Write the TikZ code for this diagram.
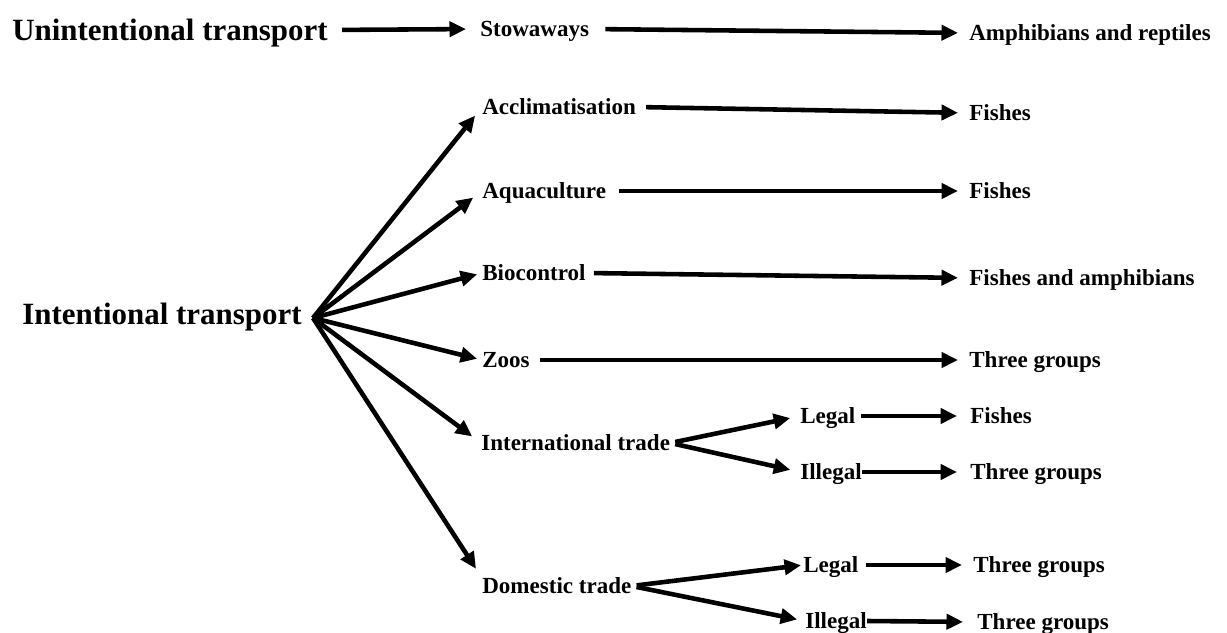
\documentclass[tikz,border=0pt]{standalone}
\usepackage{fontspec}
\setmainfont{Liberation Serif}
\usetikzlibrary{arrows.meta}

\tikzset{
  lbl/.style={inner sep=0pt, anchor=west, text height=8.7pt, text depth=0pt,
    font=\bfseries\fontsize{13.1}{15}\selectfont},
  biglbl/.style={lbl, text height=11.7pt, font=\bfseries\fontsize{17.6}{20}\selectfont},
  arr/.style={-{Triangle[length=0.33cm, width=0.3cm]}, line width=2.6pt,
    shorten <=0.2cm, shorten >=0.22cm}
}

\begin{document}
\begin{tikzpicture}

\useasboundingbox (0,0) rectangle (24.54, 12.64);

\node (unint) at (0.24, 12.04) [biglbl] {Unintentional transport};
\node (stow) at (9.60, 12.06) [lbl] {Stowaways};
\node (amph) at (19.38, 11.98) [lbl] {Amphibians and reptiles};

\node (intent) at (0.44, 6.36) [biglbl] {Intentional transport};
\coordinate (hub) at (6.26, 6.28);

\node (accl) at (9.64, 10.50) [lbl] {Acclimatisation};
\node (aqua) at (9.64, 8.82) [lbl] {Aquaculture};
\node (bioc) at (9.64, 7.18) [lbl] {Biocontrol};
\node (zoos) at (9.64, 5.44) [lbl] {Zoos};
\node (intl) at (9.62, 3.78) [lbl] {International trade};
\node (domes) at (9.64, 0.92) [lbl] {Domestic trade};

\node (fishA) at (19.38, 10.38) [lbl] {Fishes};
\node (fishB) at (19.38, 8.82) [lbl] {Fishes};
\node (fishamph) at (19.38, 7.08) [lbl] {Fishes and amphibians};
\node (threeA) at (19.38, 5.44) [lbl] {Three groups};

\node (legalA) at (16.00, 4.32) [lbl] {Legal};
\node (illegalA) at (16.00, 3.20) [lbl] {Illegal};
\node (fishC) at (19.40, 4.32) [lbl] {Fishes};
\node (threeB) at (19.40, 3.20) [lbl] {Three groups};

\node (legalB) at (16.06, 1.34) [lbl] {Legal};
\node (illegalB) at (16.10, 0.22) [lbl] {Illegal};
\node (threeC) at (19.46, 1.34) [lbl] {Three groups};
\node (threeD) at (19.54, 0.20) [lbl] {Three groups};

\draw [arr, shorten <=0.28cm, shorten >=0.28cm] (unint.east) -- (stow.west);
\draw [arr, shorten <=0.32cm] (stow.east) -- (amph.west);

\draw [arr, shorten <=0pt] (hub) -- (accl.west);
\draw [arr, shorten <=0pt] (hub) -- (aqua.west);
\draw [arr, shorten <=0pt, shorten >=0.1cm] (hub) -- (bioc.west);
\draw [arr, shorten <=0pt, shorten >=0.1cm] (hub) -- (zoos.west);
\draw [arr, shorten <=0pt] (hub) -- (intl.west);
\draw [arr, shorten <=0pt] (hub) -- (domes.north west);

\draw [arr] (accl.east) -- (fishA.west);
\draw [arr, shorten <=0.26cm] (aqua.east) -- (fishB.west);
\draw [arr, shorten <=0.16cm] (bioc.east) -- (fishamph.west);
\draw [arr] (zoos.east) -- (threeA.west);

\draw [arr, shorten <=0.1cm, shorten >=0.2cm] (intl.east) -- (legalA.west);
\draw [arr, shorten <=0.1cm, shorten >=0.2cm] (intl.east) -- (illegalA.west);
\draw [arr, shorten <=0.1cm, shorten >=0.26cm] (legalA.east) -- (fishC.west);
\draw [arr, shorten <=0pt, shorten >=0.26cm] (illegalA.east) -- (threeB.west);

\draw [arr, shorten <=0.1cm, shorten >=0.04cm] (domes.east) -- (legalB.west);
\draw [arr, shorten <=0.1cm, shorten >=0.16cm] (domes.east) -- (illegalB.west);
\draw [arr, shorten <=0.14cm] (legalB.east) -- (threeC.west);
\draw [arr, shorten <=0pt, shorten >=0.28cm] (illegalB.east) -- (threeD.west);

\end{tikzpicture}
\end{document}
